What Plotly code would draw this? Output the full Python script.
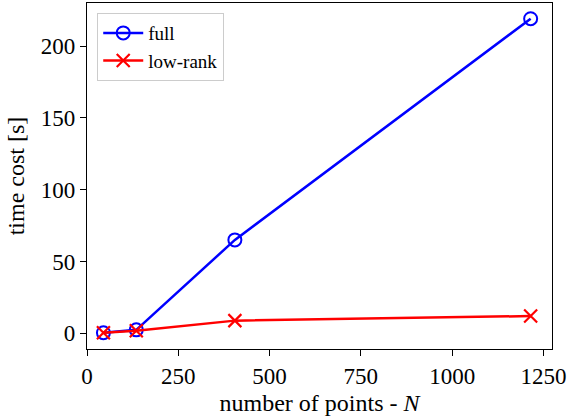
import plotly.graph_objects as go

N = [45, 135, 405, 1215]
full_time = [0.4, 2.4, 65.0, 219.0]
lowrank_time = [0.3, 1.8, 8.8, 12.0]

x_ticks = [0, 250, 500, 750, 1000, 1250]
y_ticks = [0, 50, 100, 150, 200]

FONT = "Liberation Serif"

fig = go.Figure()
fig.add_trace(go.Scatter(
    x=N, y=full_time, mode="lines+markers", name="full",
    line=dict(color="#0000ff", width=2.5),
    marker=dict(symbol="circle-open", size=13, color="#0000ff", line=dict(width=2, color="#0000ff")),
))
fig.add_trace(go.Scatter(
    x=N, y=lowrank_time, mode="lines+markers", name="low-rank",
    line=dict(color="#ff0000", width=2.5),
    marker=dict(symbol="x-thin-open", size=13, color="#ff0000", line=dict(width=2.2, color="#ff0000")),
))

axis_common = dict(
    showline=True, linecolor="black", linewidth=1.3, mirror=True,
    ticks="outside", ticklen=6, tickwidth=1.2, tickcolor="black",
    showgrid=False, zeroline=False,
    tickfont=dict(family=FONT, size=23, color="black"),
)

fig.update_xaxes(
    range=[0, 1273.5], tickvals=x_ticks, ticktext=[str(v) for v in x_ticks],
    title=dict(text="number of points - <i>N</i>", font=dict(family=FONT, size=24, color="black"), standoff=6),
    **axis_common,
)
fig.update_yaxes(
    range=[-10.95, 229.95], tickvals=y_ticks, ticktext=[str(v) for v in y_ticks],
    title=dict(text="time cost [s]", font=dict(family=FONT, size=24, color="black"), standoff=9),
    **axis_common,
)

fig.update_layout(
    width=571, height=420,
    margin=dict(l=87, r=19, t=3, b=71),
    plot_bgcolor="white", paper_bgcolor="white",
    font=dict(family=FONT, color="black"),
    showlegend=True,
    legend=dict(
        x=0.022, y=0.971, xanchor="left", yanchor="top",
        bgcolor="rgba(255,255,255,0.8)", bordercolor="#cccccc", borderwidth=1,
        font=dict(family=FONT, size=19, color="black"),
        itemwidth=40, tracegroupgap=0,
    ),
)

fig.write_html("out.html")
